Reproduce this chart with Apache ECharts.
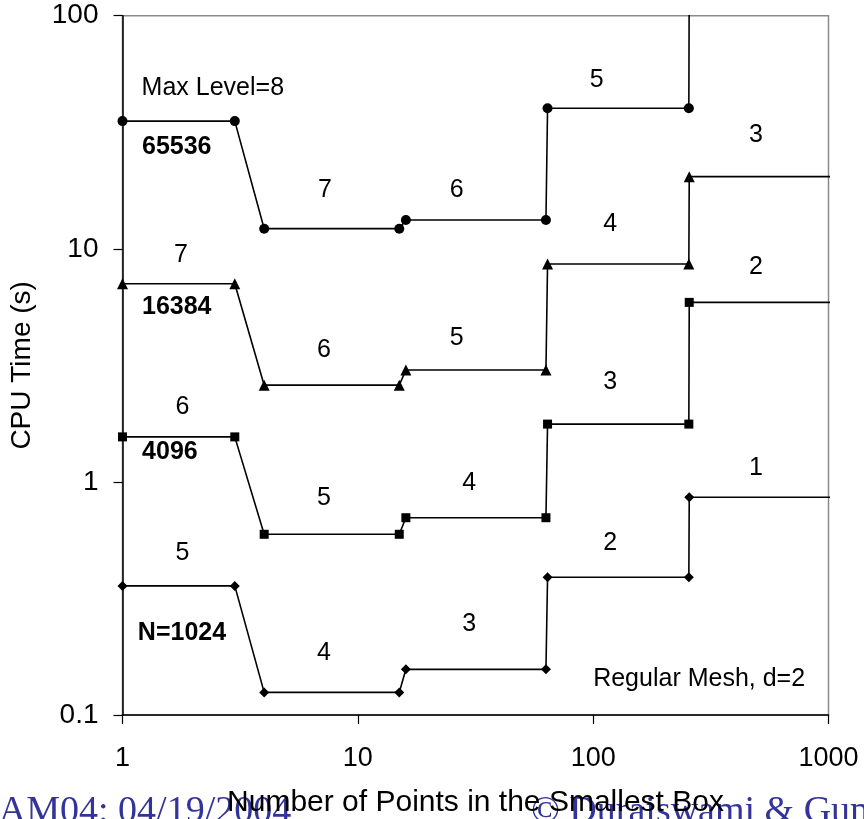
<!DOCTYPE html>
<html>
<head>
<meta charset="utf-8">
<script src="https://cdn.jsdelivr.net/npm/echarts@6/dist/echarts.min.js"></script>
<style>
  html, body { margin: 0; padding: 0; background: #fff; overflow: hidden; }
  #chart { width: 864px; height: 819px; }
</style>
</head>
<body>
<div id="chart"></div>
<script>
// Number of points in the smallest box (level boundaries at powers of 4)
const pointsPerBox = [1, 3, 4, 15, 16, 63, 64, 255, 256, 1023];

// CPU time (s) for each problem size N
const timeN65536 = [35.3, 35.3, 12.2, 12.2, 13.3, 13.3, 40.1, 40.1, 150, 150];
const timeN16384 = [7.08, 7.08, 2.6, 2.6, 3.02, 3.02, 8.6, 8.6, 20.4, 20.4];
const timeN4096  = [1.56, 1.56, 0.596, 0.596, 0.702, 0.702, 1.77, 1.77, 5.89, 5.89];
const timeN1024  = [0.358, 0.358, 0.125, 0.125, 0.157, 0.157, 0.39, 0.39, 0.859, 0.859];

// Axis tick values
const xTicks = [1, 10, 100, 1000];
const yTicks = [0.1, 1, 10, 100];

// Max-level annotations: [text, points per box, CPU time]
const levelNotes = [
  ['Max Level=8', 2.42, 49.0],
  ['7', 7.25, 17.9], ['6', 26.3, 17.9], ['5', 103.6, 53.0], ['3', 492, 30.8],
  ['7', 1.773, 9.41], ['6', 7.18, 3.68], ['5', 26.3, 4.14], ['4', 118, 12.8],
  ['6', 1.80, 2.10], ['5', 7.18, 0.853], ['4', 29.7, 0.989], ['3', 118, 2.69], ['2', 492, 8.35],
  ['5', 1.80, 0.494], ['4', 7.18, 0.185], ['3', 29.7, 0.2457], ['2', 118, 0.548], ['1', 492, 1.144],
  ['Regular Mesh, d=2', 282, 0.1427]
];
// Problem-size annotations
const sizeNotes = [
  ['65536', 1.70, 27.4],
  ['16384', 1.70, 5.64],
  ['4096', 1.59, 1.344],
  ['N=1024', 1.79, 0.2248]
];

const FONT = '"Liberation Sans", Arial, sans-serif';
const SERIF = '"Liberation Serif", "Times New Roman", serif';

function pairs(ys) {
  return pointsPerBox.map((x, i) => {
    const item = { value: [x, ys[i]] };
    if (ys[i] > 100 || x > 1000) item.symbol = 'none';
    return item;
  });
}

function stepSeries(name, ys, symbol, size) {
  return {
    name: name,
    type: 'line',
    data: pairs(ys),
    symbol: symbol,
    symbolSize: size,
    showAllSymbol: true,
    clip: true,
    lineStyle: { color: '#000', width: 1.6 },
    itemStyle: { color: '#000', opacity: 1 },
    silent: true,
    z: 3
  };
}

function noteSeries(notes, bold) {
  return {
    type: 'scatter',
    silent: true,
    symbolSize: 0,
    clip: false,
    itemStyle: { opacity: 1, color: '#000' },
    data: notes.map(n => ({ name: n[0], value: [n[1], n[2]] })),
    label: {
      show: true,
      position: 'inside',
      formatter: p => p.name,
      color: '#000',
      opacity: 1,
      fontFamily: FONT,
      fontSize: 25,
      fontWeight: bold ? 'bold' : 'normal'
    },
    z: 4
  };
}

const fmt = v => String(+Number(v).toPrecision(3));

const chart = echarts.init(document.getElementById('chart'), null, { renderer: 'canvas', width: 864, height: 819 });
chart.setOption({
  animation: false,
  backgroundColor: '#fff',
  grid: {
    left: 122.5, right: 35.5, top: 15.7, bottom: 104,
    outerBoundsMode: 'none', containLabel: false,
    show: true, borderColor: '#8a8a8a', borderWidth: 1.5, backgroundColor: 'transparent'
  },
  xAxis: {
    type: 'log', logBase: 10, min: xTicks[0], max: xTicks[xTicks.length - 1],
    name: 'Number of Points in the Smallest Box',
    nameLocation: 'middle', nameGap: 73,
    nameTextStyle: { fontFamily: FONT, fontSize: 30, color: '#000' },
    axisLine: { show: true, lineStyle: { color: '#000', width: 1.5 } },
    axisTick: { show: true, inside: false, length: 9, lineStyle: { color: '#000', width: 1.2 } },
    minorTick: { show: false },
    splitLine: { show: false },
    axisLabel: { margin: 30, fontFamily: FONT, fontSize: 27, color: '#000', formatter: fmt },
    z: 5
  },
  yAxis: {
    type: 'log', logBase: 10, min: yTicks[0], max: yTicks[yTicks.length - 1],
    name: 'CPU Time (s)',
    nameLocation: 'middle', nameGap: 86,
    nameTextStyle: { fontFamily: FONT, fontSize: 28, color: '#000' },
    axisLine: { show: true, lineStyle: { color: '#000', width: 1.5 } },
    axisTick: { show: true, inside: false, length: 9, lineStyle: { color: '#000', width: 1.2 } },
    minorTick: { show: false },
    splitLine: { show: false },
    axisLabel: { margin: 24, fontFamily: FONT, fontSize: 28, color: '#000', formatter: fmt },
    z: 5
  },
  graphic: [
    {
      type: 'text', x: -35, y: 831, z: -10, silent: true,
      style: { text: 'SIAM04: 04/19/2004', font: '38px ' + SERIF, fill: '#333399',
               textAlign: 'left', textVerticalAlign: 'bottom', verticalAlign: 'bottom' }
    },
    {
      type: 'text', x: 531, y: 831, z: -10, silent: true,
      style: { text: '\u00A9 Duraiswami & Gumerov', font: '38px ' + SERIF, fill: '#333399',
               textAlign: 'left', textVerticalAlign: 'bottom', verticalAlign: 'bottom' }
    }
  ],
  series: [
    stepSeries('N=65536', timeN65536, 'circle', 10),
    stepSeries('N=16384', timeN16384, 'triangle', 11),
    stepSeries('N=4096', timeN4096, 'rect', 9),
    stepSeries('N=1024', timeN1024, 'diamond', 10),
    noteSeries(levelNotes, false),
    noteSeries(sizeNotes, true)
  ]
});
</script>
</body>
</html>
